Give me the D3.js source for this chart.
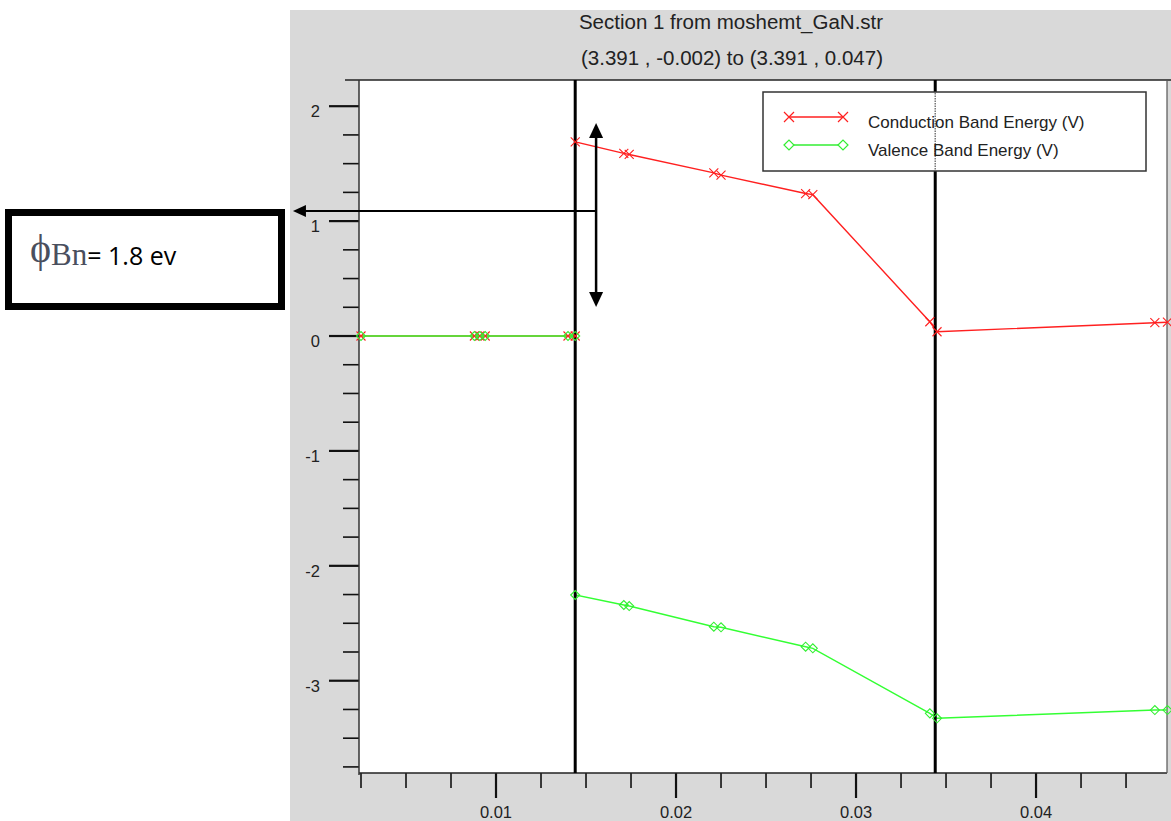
<!DOCTYPE html>
<html>
<head>
<meta charset="utf-8">
<script src="https://cdn.jsdelivr.net/npm/d3@7"></script>
<style>
  html, body { margin: 0; padding: 0; background: #fff; }
  svg { display: block; }
  text { font-family: "Liberation Sans", Arial, sans-serif; fill: #222; }
</style>
</head>
<body>
<svg id="chart" width="1171" height="821"></svg>
<script>
// ---------- data ----------
const chartTitle = "Section 1 from moshemt_GaN.str";
const chartSubtitle = "(3.391 , -0.002) to (3.391 , 0.047)";
const seriesNames = ["Conduction Band Energy (V)", "Valence Band Energy (V)"];

// distance along section (microns)
const condX = [0.0025, 0.0088, 0.0091, 0.0094, 0.0140, 0.0144, 0.0144, 0.0171, 0.0174, 0.0221, 0.0225, 0.0272, 0.0276, 0.0341, 0.0345, 0.0466, 0.0473];
const condY = [0, 0, 0, 0, 0, 0, 1.69, 1.59, 1.58, 1.42, 1.40, 1.24, 1.23, 0.124, 0.037, 0.116, 0.12];
const valX  = [0.0025, 0.0088, 0.0091, 0.0094, 0.0140, 0.0144, 0.0144, 0.0171, 0.0174, 0.0221, 0.0225, 0.0272, 0.0276, 0.0341, 0.0345, 0.0466, 0.0473];
const valY  = [0, 0, 0, 0, 0, 0, -2.254, -2.341, -2.35, -2.53, -2.535, -2.704, -2.718, -3.284, -3.327, -3.255, -3.255];

const interfaces = [0.0144, 0.0344];

const xMajorTicks = [0.01, 0.02, 0.03, 0.04];
const xTickLabels = ["0.01", "0.02", "0.03", "0.04"];
const yMajorTicks = [2, 1, 0, -1, -2, -3];
const yTickLabels = ["2", "1", "0", "-1", "-2", "-3"];

const annotationText = "= 1.8 ev";
const annotationY = 1.088;        // horizontal arrow level (V)
const arrowX = 0.01556;           // vertical arrow position
const arrowTop = 1.854, arrowBottom = 0.252;
const arrowTipX = -0.00128;

// ---------- layout ----------
const svg = d3.select("#chart");
const L = 359, R = 1167, T = 80, B = 773;
const x = d3.scaleLinear().domain([0.0025, 0.04722]).range([361, 1166]);
const y = d3.scaleLinear().domain([-3.803, 2.228]).range([B, T]);

// backgrounds
svg.append("rect").attr("x", 290).attr("y", 10).attr("width", 881).attr("height", 811).attr("fill", "#d9d9d9");
svg.append("rect").attr("x", L).attr("y", T).attr("width", R - L).attr("height", B - T).attr("fill", "#fff");

// titles
svg.append("text").attr("x", 731).attr("y", 29).attr("text-anchor", "middle")
  .attr("font-size", 20.5).text(chartTitle);
svg.append("text").attr("x", 732).attr("y", 65).attr("text-anchor", "middle")
  .attr("font-size", 20.5).text(chartSubtitle);

// y axis ticks
const yMinor = d3.range(-15, 9).map(i => i * 0.25);
svg.append("g").selectAll("line").data(yMinor).join("line")
  .attr("x1", d => Number.isInteger(d) ? L - 30 : L - 16).attr("x2", L)
  .attr("y1", d => y(d)).attr("y2", d => y(d))
  .attr("stroke", "#111").attr("stroke-width", d => Number.isInteger(d) ? 2.2 : 1.6);
svg.append("g").selectAll("text").data(yMajorTicks).join("text")
  .attr("x", 320).attr("y", d => y(d) + 11).attr("text-anchor", "end")
  .attr("font-size", 16.5).attr("fill", "#2a2a3a")
  .text((d, i) => yTickLabels[i]);

// x axis ticks
const isMajorX = d => Math.abs(d * 100 - Math.round(d * 100)) < 1e-6;
const xMinor = d3.range(1, 19).map(i => i * 0.0025);
svg.append("g").selectAll("line").data(xMinor).join("line")
  .attr("x1", d => x(d)).attr("x2", d => x(d))
  .attr("y1", B).attr("y2", d => isMajorX(d) ? B + 25 : B + 15)
  .attr("stroke", "#111").attr("stroke-width", d => isMajorX(d) ? 2.2 : 1.6);
svg.append("g").selectAll("text").data(xMajorTicks).join("text")
  .attr("x", d => x(d)).attr("y", 818).attr("text-anchor", "middle")
  .attr("font-size", 16.5).attr("fill", "#2a2a3a")
  .text((d, i) => xTickLabels[i]);

// frame
svg.append("line").attr("x1", 345).attr("x2", 1171).attr("y1", T).attr("y2", T).attr("stroke", "#222").attr("stroke-width", 1.5);
svg.append("line").attr("x1", L).attr("x2", R).attr("y1", B).attr("y2", B).attr("stroke", "#222").attr("stroke-width", 1.5);
svg.append("line").attr("x1", L).attr("x2", L).attr("y1", T).attr("y2", B + 2).attr("stroke", "#333").attr("stroke-width", 1.5);
svg.append("line").attr("x1", R).attr("x2", R).attr("y1", T).attr("y2", B).attr("stroke", "#555").attr("stroke-width", 1.2);

// data lines
const condPts = condX.map((v, i) => [v, condY[i]]);
const valPts = valX.map((v, i) => [v, valY[i]]);
const line = d3.line().x(d => x(d[0])).y(d => y(d[1]));
svg.append("path").attr("d", line(condPts)).attr("fill", "none").attr("stroke", "#ff2020").attr("stroke-width", 1.4);
svg.append("path").attr("d", line(valPts)).attr("fill", "none").attr("stroke", "#33ff33").attr("stroke-width", 1.4);

// interface lines
svg.append("g").selectAll("line").data(interfaces).join("line")
  .attr("x1", d => x(d)).attr("x2", d => x(d)).attr("y1", T).attr("y2", B)
  .attr("stroke", "#000").attr("stroke-width", 3);

// markers
const crossPath = (cx, cy, s) => `M${cx - s},${cy - s}L${cx + s},${cy + s}M${cx - s},${cy + s}L${cx + s},${cy - s}`;
const diamondPath = (cx, cy, s) => `M${cx - s},${cy}L${cx},${cy - s}L${cx + s},${cy}L${cx},${cy + s}Z`;
svg.append("g").selectAll("path").data(condPts).join("path")
  .attr("d", d => crossPath(x(d[0]), y(d[1]), 4.5)).attr("fill", "none").attr("stroke", "#ff2020").attr("stroke-width", 1.1);
svg.append("g").selectAll("path").data(valPts).join("path")
  .attr("d", d => diamondPath(x(d[0]), y(d[1]), 4.5)).attr("fill", "none").attr("stroke", "#33ee33").attr("stroke-width", 1.1);

// legend
const lg = svg.append("g");
lg.append("rect").attr("x", 763).attr("y", 92).attr("width", 383).attr("height", 79)
  .attr("fill", "#fff").attr("stroke", "#333").attr("stroke-width", 1.5);
lg.append("line").attr("x1", x(interfaces[1])).attr("x2", x(interfaces[1])).attr("y1", 93).attr("y2", 170)
  .attr("stroke", "#777").attr("stroke-width", 1.5).attr("stroke-dasharray", "1.5,1");
const legendColors = ["#ff2020", "#33ee33"];
const legendY = [117, 145];
seriesNames.forEach((name, i) => {
  lg.append("line").attr("x1", 789).attr("x2", 843).attr("y1", legendY[i]).attr("y2", legendY[i])
    .attr("stroke", legendColors[i]).attr("stroke-width", 1.4);
  [789, 843].forEach(cx => {
    lg.append("path").attr("d", i === 0 ? crossPath(cx, legendY[i], 5) : diamondPath(cx, legendY[i], 5))
      .attr("fill", i === 0 ? "none" : "#fff").attr("stroke", legendColors[i]).attr("stroke-width", 1.2);
  });
  lg.append("text").attr("x", 868).attr("y", legendY[i] + 11).attr("font-size", 17).attr("fill", "#2a2a3a").text(name);
});

// annotation arrows
const ax = x(arrowX);
svg.append("line").attr("x1", ax).attr("x2", x(arrowTipX) + 12).attr("y1", y(annotationY)).attr("y2", y(annotationY))
  .attr("stroke", "#000").attr("stroke-width", 2);
svg.append("path").attr("d", `M${x(arrowTipX)},${y(annotationY)}L${x(arrowTipX) + 13},${y(annotationY) - 6}L${x(arrowTipX) + 13},${y(annotationY) + 6}Z`).attr("fill", "#000");
svg.append("line").attr("x1", ax).attr("x2", ax).attr("y1", y(arrowTop) + 13).attr("y2", y(arrowBottom) - 13)
  .attr("stroke", "#000").attr("stroke-width", 2.5);
svg.append("path").attr("d", `M${ax},${y(arrowTop)}L${ax - 7},${y(arrowTop) + 15}L${ax + 7},${y(arrowTop) + 15}Z`).attr("fill", "#000");
svg.append("path").attr("d", `M${ax},${y(arrowBottom)}L${ax - 7},${y(arrowBottom) - 15}L${ax + 7},${y(arrowBottom) - 15}Z`).attr("fill", "#000");

// annotation box
svg.append("rect").attr("x", 8.5).attr("y", 212.5).attr("width", 273).attr("height", 94)
  .attr("fill", "#fff").attr("stroke", "#000").attr("stroke-width", 7);
const at = svg.append("text").attr("x", 30).attr("y", 265);
at.append("tspan").attr("font-family", "'Liberation Serif', 'DejaVu Serif', serif").attr("font-size", 40).attr("fill", "#4a4f5e").attr("dy", -3).text("ϕ");
at.append("tspan").attr("font-family", "'Liberation Serif', 'DejaVu Serif', serif").attr("font-size", 31).attr("fill", "#4a4f5e").attr("dy", 3).text("Bn");
at.append("tspan").attr("font-family", "'Open Sans', 'Noto Sans', sans-serif").attr("font-size", 25).attr("fill", "#000").text(annotationText);
</script>
</body>
</html>
